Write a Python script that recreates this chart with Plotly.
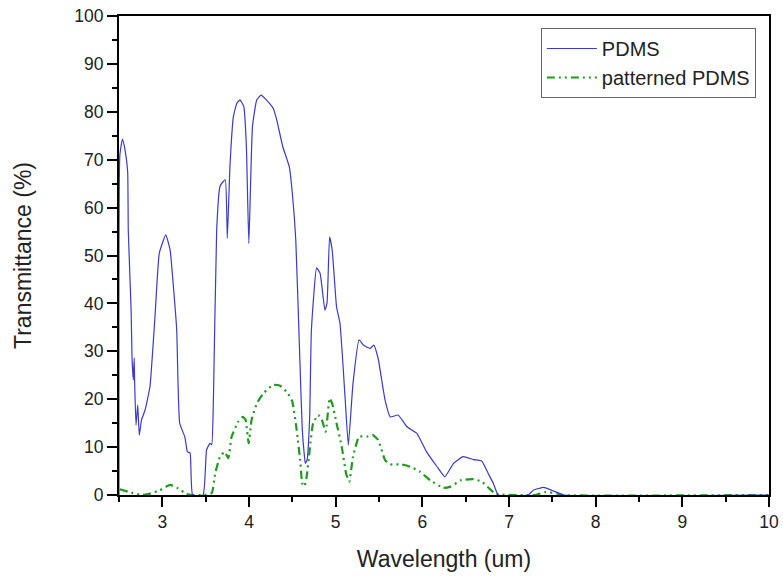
import plotly.graph_objects as go

# PDMS (blue, solid)
pdms_x = [2.50, 2.51, 2.54, 2.57, 2.60, 2.607, 2.64, 2.65, 2.665, 2.676, 2.68, 2.696, 2.716, 2.734, 2.76, 2.80,
          2.857, 2.915, 2.965, 3.04, 3.09, 3.13, 3.166, 3.20, 3.26, 3.29, 3.32, 3.35, 3.47, 3.51, 3.55, 3.57,
          3.59, 3.627, 3.665, 3.70, 3.727, 3.75, 3.78, 3.82, 3.86, 3.896, 3.94, 3.97, 3.998, 4.04, 4.09,
          4.14, 4.20, 4.28, 4.32, 4.39, 4.465, 4.50, 4.54, 4.588, 4.615, 4.64, 4.65, 4.67, 4.70,
          4.72, 4.78, 4.82, 4.876, 4.90, 4.93, 4.96, 5.01, 5.05, 5.108, 5.146, 5.20, 5.27, 5.32,
          5.396, 5.44, 5.49, 5.57, 5.63, 5.72, 5.82, 5.935, 6.05, 6.17, 6.26, 6.36, 6.47, 6.59,
          6.685, 6.76, 6.82, 6.876, 7.22, 7.28, 7.40, 7.49, 7.59, 7.63, 10.0]
pdms_y = [0.0, 71.0, 74.3, 72.0, 67.5, 55.3, 38.6, 28.9, 24.0, 28.6, 24.0, 14.6, 18.8, 12.5, 15.7, 17.7,
          22.6, 37.2, 50.5, 54.3, 51.1, 43.0, 34.4, 15.0, 12.1, 9.0, 8.8, 0.0, 0.0, 9.4, 10.8, 10.5,
          20.5, 55.3, 64.4, 65.4, 65.8, 53.6, 68.5, 79.0, 81.8, 82.5, 81.1, 72.7, 52.5, 76.9, 82.5,
          83.5, 82.5, 80.7, 78.3, 72.7, 68.5, 63.0, 53.2, 27.5, 13.6, 8.0, 6.6, 7.3, 16.3,
          34.4, 47.4, 46.3, 38.6, 40.0, 53.9, 51.1, 39.3, 35.8, 20.5, 10.4, 23.3, 32.4, 31.3,
          30.6, 31.3, 28.5, 19.8, 16.3, 16.7, 14.3, 12.9, 9.0, 5.9, 3.8, 6.6, 8.0, 7.4,
          7.1, 4.5, 2.4, 0.0, 0.0, 1.0, 1.6, 1.0, 0.3, 0.0, 0.0]

# patterned PDMS (green, dash-dot-dot)
pat_x = [2.51, 2.66, 2.76, 2.86, 2.97, 3.09, 3.18, 3.28, 3.35, 3.47, 3.57, 3.61, 3.665, 3.72, 3.76,
         3.80, 3.876, 3.93, 3.96, 3.996, 4.03, 4.09, 4.165, 4.28, 4.36, 4.45, 4.50, 4.55, 4.59,
         4.615, 4.64, 4.665, 4.70, 4.74, 4.80, 4.84, 4.885, 4.93, 4.96, 5.01, 5.07, 5.12, 5.157,
         5.20, 5.27, 5.36, 5.43, 5.49, 5.57, 5.63, 5.76, 5.86, 5.97, 6.09, 6.24, 6.32, 6.45,
         6.59, 6.685, 6.77, 6.85, 7.30, 7.42, 7.55, 7.62, 10.0]
pat_y = [1.2, 0.4, 0.0, 0.3, 1.0, 2.1, 1.4, 0.2, 0.0, 0.0, 0.4, 4.5, 8.0, 9.0, 7.7,
         12.2, 15.3, 16.3, 15.7, 10.8, 15.7, 19.1, 21.2, 23.0, 22.8, 21.2, 19.5, 13.6, 7.3,
         2.4, 1.8, 3.8, 9.4, 15.0, 16.7, 15.7, 13.2, 20.2, 19.1, 15.0, 10.1, 4.5, 2.8,
         8.0, 12.2, 12.2, 12.5, 11.5, 7.3, 6.4, 6.4, 5.9, 4.9, 3.1, 1.5, 1.7, 3.1,
         3.3, 2.8, 1.4, 0.2, 0.0, 0.6, 0.35, 0.0, 0.0]

x_ticks = [3, 4, 5, 6, 7, 8, 9, 10]
y_ticks = [0, 10, 20, 30, 40, 50, 60, 70, 80, 90, 100]

FONT = "Liberation Sans, Arial, sans-serif"
BLUE = "#3a3acc"
GREEN = "#1f9a1f"
GDASH = "8px,4px,2px,4px,2px,4px"

fig = go.Figure()
fig.add_trace(go.Scatter(x=pat_x, y=pat_y, mode="lines", name="patterned PDMS",
                         line=dict(color=GREEN, width=2.2, dash=GDASH, shape="spline", smoothing=0.4),
                         showlegend=False))
fig.add_trace(go.Scatter(x=pdms_x, y=pdms_y, mode="lines", name="PDMS",
                         line=dict(color=BLUE, width=1.2, shape="spline", smoothing=0.4)))
fig.add_trace(go.Scatter(x=[None], y=[None], mode="lines", name="patterned PDMS",
                         line=dict(color=GREEN, width=2.2, dash=GDASH)))

axis_common = dict(
    showline=True, linecolor="black", linewidth=2, mirror=True,
    ticks="outside", ticklen=10, tickwidth=2, tickcolor="black",
    showgrid=False, zeroline=False, automargin=False,
    tickfont=dict(family=FONT, size=17.5, color="#222"),
)

fig.update_xaxes(range=[2.5, 10], tickvals=x_ticks,
                 minor=dict(dtick=0.5, ticks="outside", ticklen=5, tickwidth=2, tickcolor="black"),
                 title=dict(text="Wavelength (um)", font=dict(family=FONT, size=23, color="#222"), standoff=20),
                 **axis_common)
fig.update_yaxes(range=[0, 100], tickvals=y_ticks,
                 minor=dict(dtick=5, ticks="outside", ticklen=5, tickwidth=2, tickcolor="black"),
                 title=dict(text="Transmittance (%)", font=dict(family=FONT, size=23, color="#222"), standoff=36),
                 **axis_common)

fig.update_layout(
    width=783, height=576,
    margin=dict(l=119, r=14, t=16, b=81),
    plot_bgcolor="white", paper_bgcolor="white",
    legend=dict(x=0.649, y=0.975, xanchor="left", yanchor="top",
                bordercolor="#666", borderwidth=1, bgcolor="white",
                font=dict(family=FONT, size=20, color="#222"),
                tracegroupgap=0, itemwidth=50),
)

fig.write_html("out.html")
